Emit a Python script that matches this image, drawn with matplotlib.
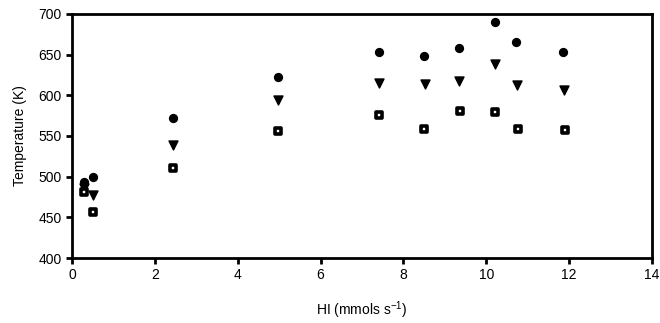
import matplotlib.pyplot as plt

plt.rcParams['font.family'] = ['Liberation Sans', 'DejaVu Sans']

# HI flow (mmols/s) and temperatures (K) for the three series
hi_circ = [0.3, 0.5, 2.43, 4.97, 7.4, 8.5, 9.35, 10.2, 10.72, 11.85]
t_circ = [494, 500, 572, 622, 653, 648, 658, 690, 665, 653]

hi_tri = [0.3, 0.5, 2.45, 4.97, 7.42, 8.52, 9.35, 10.22, 10.75, 11.87]
t_tri = [486, 478, 539, 594, 615, 614, 618, 638, 613, 606]

hi_sq = [0.3, 0.52, 2.45, 4.98, 7.42, 8.5, 9.37, 10.2, 10.77, 11.9]
t_sq = [481, 456, 511, 556, 576, 559, 581, 579, 559, 557]

fig = plt.figure(figsize=(6.6, 3.23), dpi=100)
ax = fig.add_axes([0.109, 0.201, 0.879, 0.756])

ax.scatter(hi_circ, t_circ, marker='o', s=32, color='black', zorder=3)
ax.scatter(hi_tri, t_tri, marker='v', s=42, color='black', zorder=3)
ax.scatter(hi_sq, t_sq, marker='s', s=16, facecolor='white', edgecolor='black',
           linewidths=2.6, zorder=3)

ax.set_xlim(0, 14)
ax.set_ylim(400, 700)
ax.set_xticks(range(0, 15, 2))
ax.set_yticks(range(400, 701, 50))

for sp in ax.spines.values():
    sp.set_linewidth(2)
ax.tick_params(direction='out', length=4, width=2, labelsize=10)

ax.set_xlabel('HI (mmols s$^{\\mathregular{-1}}$)', fontsize=10, labelpad=12)
ax.set_ylabel('Temperature (K)', fontsize=10, labelpad=8)

fig.savefig('out.png', dpi=100)
